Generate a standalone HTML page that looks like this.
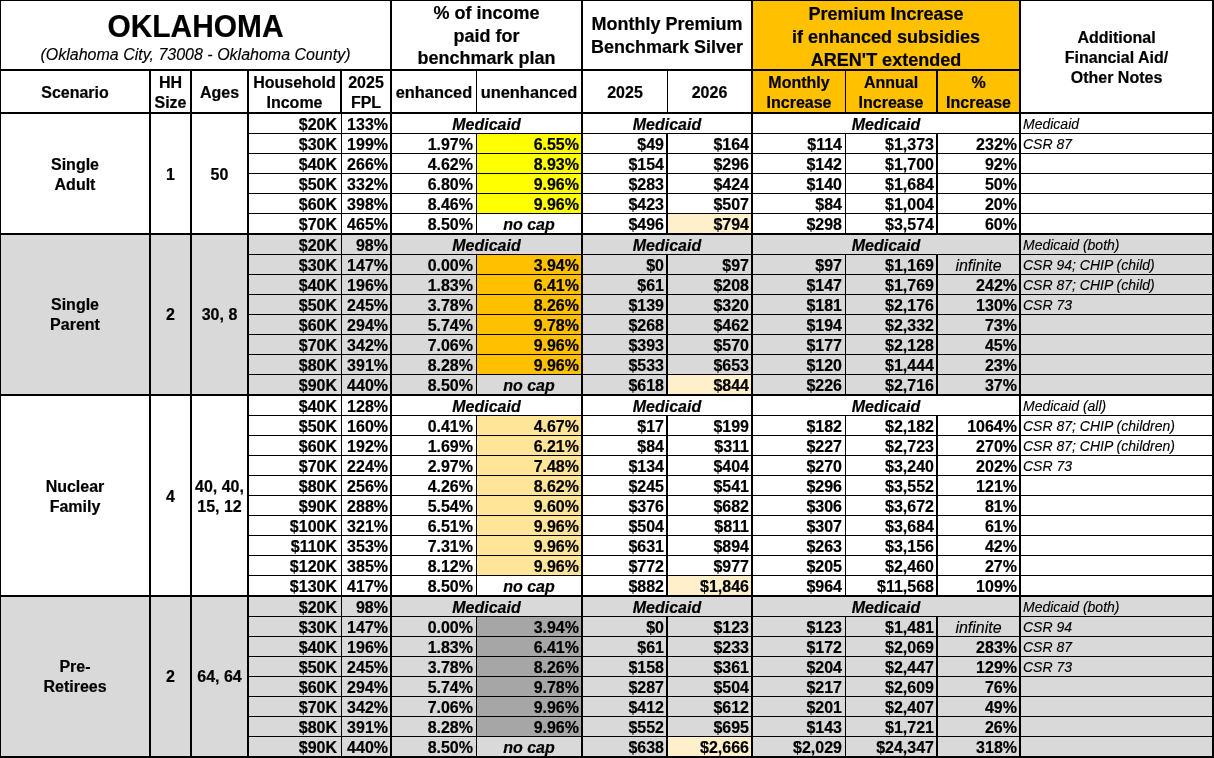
<!DOCTYPE html>
<html lang="en">
<head>
<meta charset="utf-8">
<title>Oklahoma premium table</title>
<style>
html,body{margin:0;padding:0;background:#fff;}
body{width:1214px;height:758px;position:relative;overflow:hidden;font-family:"Liberation Sans",sans-serif;color:#000;}
#sheet{position:absolute;left:0;top:0;width:1214px;height:758px;will-change:transform;}
.r{position:absolute;}
.t{position:absolute;white-space:nowrap;font-size:16px;box-sizing:content-box;transform:scaleY(1.045);transform-origin:50% 50%;}
.b{font-weight:bold;-webkit-text-stroke:0.2px #000;}
.i{font-style:italic;-webkit-text-stroke:0.15px #000;}
.bi{font-weight:bold;font-style:italic;-webkit-text-stroke:0.2px #000;}
.d{font-size:16px;}
.h{font-size:16px;}
.h2{font-size:16.4px;}
.n{font-size:14px;}
</style>
</head>
<body>
<div id="sheet">
<div class="r" style="left:0px;top:233px;width:1214px;height:161px;background:#d9d9d9"></div>
<div class="r" style="left:0px;top:595px;width:1214px;height:161px;background:#d9d9d9"></div>
<div class="r" style="left:753px;top:1px;width:266px;height:111px;background:#ffc000"></div>
<div class="r" style="left:477px;top:134px;width:104px;height:19px;background:#ffff00"></div>
<div class="r" style="left:477px;top:154px;width:104px;height:19px;background:#ffff00"></div>
<div class="r" style="left:477px;top:174px;width:104px;height:19px;background:#ffff00"></div>
<div class="r" style="left:477px;top:194px;width:104px;height:19px;background:#ffff00"></div>
<div class="r" style="left:668px;top:214px;width:83px;height:19px;background:#fff0cb"></div>
<div class="r" style="left:477px;top:255px;width:104px;height:19px;background:#ffc000"></div>
<div class="r" style="left:477px;top:275px;width:104px;height:19px;background:#ffc000"></div>
<div class="r" style="left:477px;top:295px;width:104px;height:19px;background:#ffc000"></div>
<div class="r" style="left:477px;top:315px;width:104px;height:19px;background:#ffc000"></div>
<div class="r" style="left:477px;top:335px;width:104px;height:19px;background:#ffc000"></div>
<div class="r" style="left:477px;top:355px;width:104px;height:19px;background:#ffc000"></div>
<div class="r" style="left:668px;top:375px;width:83px;height:19px;background:#fff0cb"></div>
<div class="r" style="left:477px;top:416px;width:104px;height:19px;background:#fee597"></div>
<div class="r" style="left:477px;top:436px;width:104px;height:19px;background:#fee597"></div>
<div class="r" style="left:477px;top:456px;width:104px;height:19px;background:#fee597"></div>
<div class="r" style="left:477px;top:476px;width:104px;height:19px;background:#fee597"></div>
<div class="r" style="left:477px;top:496px;width:104px;height:19px;background:#fee597"></div>
<div class="r" style="left:477px;top:516px;width:104px;height:19px;background:#fee597"></div>
<div class="r" style="left:477px;top:536px;width:104px;height:19px;background:#fee597"></div>
<div class="r" style="left:477px;top:556px;width:104px;height:19px;background:#fee597"></div>
<div class="r" style="left:668px;top:576px;width:83px;height:19px;background:#fff0cb"></div>
<div class="r" style="left:477px;top:617px;width:104px;height:19px;background:#a6a6a6"></div>
<div class="r" style="left:477px;top:637px;width:104px;height:19px;background:#a6a6a6"></div>
<div class="r" style="left:477px;top:657px;width:104px;height:19px;background:#a6a6a6"></div>
<div class="r" style="left:477px;top:677px;width:104px;height:19px;background:#a6a6a6"></div>
<div class="r" style="left:477px;top:697px;width:104px;height:19px;background:#a6a6a6"></div>
<div class="r" style="left:477px;top:717px;width:104px;height:19px;background:#a6a6a6"></div>
<div class="r" style="left:668px;top:737px;width:83px;height:19px;background:#fff0cb"></div>
<div class="r" style="left:0px;top:0px;width:1214px;height:1px;background:#000"></div>
<div class="r" style="left:0px;top:0px;width:1px;height:758px;background:#000"></div>
<div class="r" style="left:1212px;top:0px;width:2px;height:758px;background:#000"></div>
<div class="r" style="left:0px;top:756px;width:1214px;height:2px;background:#000"></div>
<div class="r" style="left:0px;top:69px;width:1021px;height:2px;background:#000"></div>
<div class="r" style="left:0px;top:112px;width:1214px;height:2px;background:#000"></div>
<div class="r" style="left:390px;top:0px;width:2px;height:758px;background:#000"></div>
<div class="r" style="left:581px;top:0px;width:2px;height:758px;background:#000"></div>
<div class="r" style="left:751px;top:0px;width:2px;height:758px;background:#000"></div>
<div class="r" style="left:1019px;top:0px;width:2px;height:758px;background:#000"></div>
<div class="r" style="left:149px;top:69px;width:2px;height:689px;background:#000"></div>
<div class="r" style="left:190px;top:69px;width:2px;height:689px;background:#000"></div>
<div class="r" style="left:247px;top:69px;width:2px;height:689px;background:#000"></div>
<div class="r" style="left:340px;top:71px;width:2px;height:41px;background:#000"></div>
<div class="r" style="left:341px;top:112px;width:1px;height:646px;background:#000"></div>
<div class="r" style="left:476px;top:71px;width:1px;height:41px;background:#000"></div>
<div class="r" style="left:667px;top:71px;width:1px;height:41px;background:#000"></div>
<div class="r" style="left:845px;top:71px;width:1px;height:41px;background:#000"></div>
<div class="r" style="left:936px;top:71px;width:2px;height:41px;background:#000"></div>
<div class="r" style="left:476px;top:134px;width:1px;height:20px;background:#000"></div>
<div class="r" style="left:666px;top:134px;width:2px;height:20px;background:#000"></div>
<div class="r" style="left:845px;top:134px;width:1px;height:20px;background:#000"></div>
<div class="r" style="left:936px;top:134px;width:2px;height:20px;background:#000"></div>
<div class="r" style="left:476px;top:154px;width:1px;height:20px;background:#000"></div>
<div class="r" style="left:666px;top:154px;width:2px;height:20px;background:#000"></div>
<div class="r" style="left:845px;top:154px;width:1px;height:20px;background:#000"></div>
<div class="r" style="left:936px;top:154px;width:2px;height:20px;background:#000"></div>
<div class="r" style="left:476px;top:174px;width:1px;height:20px;background:#000"></div>
<div class="r" style="left:666px;top:174px;width:2px;height:20px;background:#000"></div>
<div class="r" style="left:845px;top:174px;width:1px;height:20px;background:#000"></div>
<div class="r" style="left:936px;top:174px;width:2px;height:20px;background:#000"></div>
<div class="r" style="left:476px;top:194px;width:1px;height:20px;background:#000"></div>
<div class="r" style="left:666px;top:194px;width:2px;height:20px;background:#000"></div>
<div class="r" style="left:845px;top:194px;width:1px;height:20px;background:#000"></div>
<div class="r" style="left:936px;top:194px;width:2px;height:20px;background:#000"></div>
<div class="r" style="left:476px;top:214px;width:1px;height:19px;background:#000"></div>
<div class="r" style="left:666px;top:214px;width:2px;height:19px;background:#000"></div>
<div class="r" style="left:845px;top:214px;width:1px;height:19px;background:#000"></div>
<div class="r" style="left:936px;top:214px;width:2px;height:19px;background:#000"></div>
<div class="r" style="left:476px;top:255px;width:1px;height:20px;background:#000"></div>
<div class="r" style="left:666px;top:255px;width:2px;height:20px;background:#000"></div>
<div class="r" style="left:845px;top:255px;width:1px;height:20px;background:#000"></div>
<div class="r" style="left:936px;top:255px;width:2px;height:20px;background:#000"></div>
<div class="r" style="left:476px;top:275px;width:1px;height:20px;background:#000"></div>
<div class="r" style="left:666px;top:275px;width:2px;height:20px;background:#000"></div>
<div class="r" style="left:845px;top:275px;width:1px;height:20px;background:#000"></div>
<div class="r" style="left:936px;top:275px;width:2px;height:20px;background:#000"></div>
<div class="r" style="left:476px;top:295px;width:1px;height:20px;background:#000"></div>
<div class="r" style="left:666px;top:295px;width:2px;height:20px;background:#000"></div>
<div class="r" style="left:845px;top:295px;width:1px;height:20px;background:#000"></div>
<div class="r" style="left:936px;top:295px;width:2px;height:20px;background:#000"></div>
<div class="r" style="left:476px;top:315px;width:1px;height:20px;background:#000"></div>
<div class="r" style="left:666px;top:315px;width:2px;height:20px;background:#000"></div>
<div class="r" style="left:845px;top:315px;width:1px;height:20px;background:#000"></div>
<div class="r" style="left:936px;top:315px;width:2px;height:20px;background:#000"></div>
<div class="r" style="left:476px;top:335px;width:1px;height:20px;background:#000"></div>
<div class="r" style="left:666px;top:335px;width:2px;height:20px;background:#000"></div>
<div class="r" style="left:845px;top:335px;width:1px;height:20px;background:#000"></div>
<div class="r" style="left:936px;top:335px;width:2px;height:20px;background:#000"></div>
<div class="r" style="left:476px;top:355px;width:1px;height:20px;background:#000"></div>
<div class="r" style="left:666px;top:355px;width:2px;height:20px;background:#000"></div>
<div class="r" style="left:845px;top:355px;width:1px;height:20px;background:#000"></div>
<div class="r" style="left:936px;top:355px;width:2px;height:20px;background:#000"></div>
<div class="r" style="left:476px;top:375px;width:1px;height:19px;background:#000"></div>
<div class="r" style="left:666px;top:375px;width:2px;height:19px;background:#000"></div>
<div class="r" style="left:845px;top:375px;width:1px;height:19px;background:#000"></div>
<div class="r" style="left:936px;top:375px;width:2px;height:19px;background:#000"></div>
<div class="r" style="left:476px;top:416px;width:1px;height:20px;background:#000"></div>
<div class="r" style="left:666px;top:416px;width:2px;height:20px;background:#000"></div>
<div class="r" style="left:845px;top:416px;width:1px;height:20px;background:#000"></div>
<div class="r" style="left:936px;top:416px;width:2px;height:20px;background:#000"></div>
<div class="r" style="left:476px;top:436px;width:1px;height:20px;background:#000"></div>
<div class="r" style="left:666px;top:436px;width:2px;height:20px;background:#000"></div>
<div class="r" style="left:845px;top:436px;width:1px;height:20px;background:#000"></div>
<div class="r" style="left:936px;top:436px;width:2px;height:20px;background:#000"></div>
<div class="r" style="left:476px;top:456px;width:1px;height:20px;background:#000"></div>
<div class="r" style="left:666px;top:456px;width:2px;height:20px;background:#000"></div>
<div class="r" style="left:845px;top:456px;width:1px;height:20px;background:#000"></div>
<div class="r" style="left:936px;top:456px;width:2px;height:20px;background:#000"></div>
<div class="r" style="left:476px;top:476px;width:1px;height:20px;background:#000"></div>
<div class="r" style="left:666px;top:476px;width:2px;height:20px;background:#000"></div>
<div class="r" style="left:845px;top:476px;width:1px;height:20px;background:#000"></div>
<div class="r" style="left:936px;top:476px;width:2px;height:20px;background:#000"></div>
<div class="r" style="left:476px;top:496px;width:1px;height:20px;background:#000"></div>
<div class="r" style="left:666px;top:496px;width:2px;height:20px;background:#000"></div>
<div class="r" style="left:845px;top:496px;width:1px;height:20px;background:#000"></div>
<div class="r" style="left:936px;top:496px;width:2px;height:20px;background:#000"></div>
<div class="r" style="left:476px;top:516px;width:1px;height:20px;background:#000"></div>
<div class="r" style="left:666px;top:516px;width:2px;height:20px;background:#000"></div>
<div class="r" style="left:845px;top:516px;width:1px;height:20px;background:#000"></div>
<div class="r" style="left:936px;top:516px;width:2px;height:20px;background:#000"></div>
<div class="r" style="left:476px;top:536px;width:1px;height:20px;background:#000"></div>
<div class="r" style="left:666px;top:536px;width:2px;height:20px;background:#000"></div>
<div class="r" style="left:845px;top:536px;width:1px;height:20px;background:#000"></div>
<div class="r" style="left:936px;top:536px;width:2px;height:20px;background:#000"></div>
<div class="r" style="left:476px;top:556px;width:1px;height:20px;background:#000"></div>
<div class="r" style="left:666px;top:556px;width:2px;height:20px;background:#000"></div>
<div class="r" style="left:845px;top:556px;width:1px;height:20px;background:#000"></div>
<div class="r" style="left:936px;top:556px;width:2px;height:20px;background:#000"></div>
<div class="r" style="left:476px;top:576px;width:1px;height:19px;background:#000"></div>
<div class="r" style="left:666px;top:576px;width:2px;height:19px;background:#000"></div>
<div class="r" style="left:845px;top:576px;width:1px;height:19px;background:#000"></div>
<div class="r" style="left:936px;top:576px;width:2px;height:19px;background:#000"></div>
<div class="r" style="left:476px;top:617px;width:1px;height:20px;background:#000"></div>
<div class="r" style="left:666px;top:617px;width:2px;height:20px;background:#000"></div>
<div class="r" style="left:845px;top:617px;width:1px;height:20px;background:#000"></div>
<div class="r" style="left:936px;top:617px;width:2px;height:20px;background:#000"></div>
<div class="r" style="left:476px;top:637px;width:1px;height:20px;background:#000"></div>
<div class="r" style="left:666px;top:637px;width:2px;height:20px;background:#000"></div>
<div class="r" style="left:845px;top:637px;width:1px;height:20px;background:#000"></div>
<div class="r" style="left:936px;top:637px;width:2px;height:20px;background:#000"></div>
<div class="r" style="left:476px;top:657px;width:1px;height:20px;background:#000"></div>
<div class="r" style="left:666px;top:657px;width:2px;height:20px;background:#000"></div>
<div class="r" style="left:845px;top:657px;width:1px;height:20px;background:#000"></div>
<div class="r" style="left:936px;top:657px;width:2px;height:20px;background:#000"></div>
<div class="r" style="left:476px;top:677px;width:1px;height:20px;background:#000"></div>
<div class="r" style="left:666px;top:677px;width:2px;height:20px;background:#000"></div>
<div class="r" style="left:845px;top:677px;width:1px;height:20px;background:#000"></div>
<div class="r" style="left:936px;top:677px;width:2px;height:20px;background:#000"></div>
<div class="r" style="left:476px;top:697px;width:1px;height:20px;background:#000"></div>
<div class="r" style="left:666px;top:697px;width:2px;height:20px;background:#000"></div>
<div class="r" style="left:845px;top:697px;width:1px;height:20px;background:#000"></div>
<div class="r" style="left:936px;top:697px;width:2px;height:20px;background:#000"></div>
<div class="r" style="left:476px;top:717px;width:1px;height:20px;background:#000"></div>
<div class="r" style="left:666px;top:717px;width:2px;height:20px;background:#000"></div>
<div class="r" style="left:845px;top:717px;width:1px;height:20px;background:#000"></div>
<div class="r" style="left:936px;top:717px;width:2px;height:20px;background:#000"></div>
<div class="r" style="left:476px;top:737px;width:1px;height:19px;background:#000"></div>
<div class="r" style="left:666px;top:737px;width:2px;height:19px;background:#000"></div>
<div class="r" style="left:845px;top:737px;width:1px;height:19px;background:#000"></div>
<div class="r" style="left:936px;top:737px;width:2px;height:19px;background:#000"></div>
<div class="r" style="left:249px;top:133px;width:963px;height:1px;background:#000"></div>
<div class="r" style="left:249px;top:153px;width:963px;height:1px;background:#000"></div>
<div class="r" style="left:249px;top:173px;width:963px;height:1px;background:#000"></div>
<div class="r" style="left:249px;top:193px;width:963px;height:1px;background:#000"></div>
<div class="r" style="left:249px;top:213px;width:963px;height:1px;background:#000"></div>
<div class="r" style="left:0px;top:233px;width:1214px;height:2px;background:#000"></div>
<div class="r" style="left:249px;top:254px;width:963px;height:1px;background:#000"></div>
<div class="r" style="left:249px;top:274px;width:963px;height:1px;background:#000"></div>
<div class="r" style="left:249px;top:294px;width:963px;height:1px;background:#000"></div>
<div class="r" style="left:249px;top:314px;width:963px;height:1px;background:#000"></div>
<div class="r" style="left:249px;top:334px;width:963px;height:1px;background:#000"></div>
<div class="r" style="left:249px;top:354px;width:963px;height:1px;background:#000"></div>
<div class="r" style="left:249px;top:374px;width:963px;height:1px;background:#000"></div>
<div class="r" style="left:0px;top:394px;width:1214px;height:2px;background:#000"></div>
<div class="r" style="left:249px;top:415px;width:963px;height:1px;background:#000"></div>
<div class="r" style="left:249px;top:435px;width:963px;height:1px;background:#000"></div>
<div class="r" style="left:249px;top:455px;width:963px;height:1px;background:#000"></div>
<div class="r" style="left:249px;top:475px;width:963px;height:1px;background:#000"></div>
<div class="r" style="left:249px;top:495px;width:963px;height:1px;background:#000"></div>
<div class="r" style="left:249px;top:515px;width:963px;height:1px;background:#000"></div>
<div class="r" style="left:249px;top:535px;width:963px;height:1px;background:#000"></div>
<div class="r" style="left:249px;top:555px;width:963px;height:1px;background:#000"></div>
<div class="r" style="left:249px;top:575px;width:963px;height:1px;background:#000"></div>
<div class="r" style="left:0px;top:595px;width:1214px;height:2px;background:#000"></div>
<div class="r" style="left:249px;top:616px;width:963px;height:1px;background:#000"></div>
<div class="r" style="left:249px;top:636px;width:963px;height:1px;background:#000"></div>
<div class="r" style="left:249px;top:656px;width:963px;height:1px;background:#000"></div>
<div class="r" style="left:249px;top:676px;width:963px;height:1px;background:#000"></div>
<div class="r" style="left:249px;top:696px;width:963px;height:1px;background:#000"></div>
<div class="r" style="left:249px;top:716px;width:963px;height:1px;background:#000"></div>
<div class="r" style="left:249px;top:736px;width:963px;height:1px;background:#000"></div>
<div class="t b" style="left:1px;top:9px;width:389px;height:36px;line-height:36px;text-align:center;font-size:29.9px;">OKLAHOMA</div>
<div class="t i" style="left:1px;top:44px;width:389px;height:21px;line-height:21px;text-align:center;font-size:16px;">(Oklahoma City, 73008 - Oklahoma County)</div>
<div class="t b" style="left:392px;top:4.45px;width:189px;line-height:21.531px;text-align:center;font-size:18px;">% of income<br>paid for<br>benchmark plan</div>
<div class="t b" style="left:583px;top:14.47px;width:168px;line-height:21.531px;text-align:center;font-size:18px;">Monthly Premium<br>Benchmark Silver</div>
<div class="t b" style="left:753px;top:4.88px;width:266px;line-height:21.914px;text-align:center;font-size:18px;">Premium Increase<br>if enhanced subsidies<br>AREN'T extended</div>
<div class="t b" style="left:1021px;top:29.29px;width:191px;line-height:19.139px;text-align:center;font-size:16px;">Additional<br>Financial Aid/<br>Other Notes</div>
<div class="t b h" style="left:1px;top:72px;width:148px;height:41px;line-height:41px;text-align:center;">Scenario</div>
<div class="t b h" style="left:151px;top:72.86px;width:39px;line-height:19.139px;text-align:center;">HH<br>Size</div>
<div class="t b h" style="left:192px;top:72px;width:55px;height:41px;line-height:41px;text-align:center;">Ages</div>
<div class="t b h" style="left:249px;top:72.86px;width:91px;line-height:19.139px;text-align:center;">Household<br>Income</div>
<div class="t b h" style="left:342px;top:72.86px;width:48px;line-height:19.139px;text-align:center;">2025<br>FPL</div>
<div class="t b h2" style="left:392px;top:72px;width:84px;height:41px;line-height:41px;text-align:center;">enhanced</div>
<div class="t b h2" style="left:477px;top:72px;width:104px;height:41px;line-height:41px;text-align:center;">unenhanced</div>
<div class="t b h" style="left:583px;top:72px;width:84px;height:41px;line-height:41px;text-align:center;">2025</div>
<div class="t b h" style="left:668px;top:72px;width:83px;height:41px;line-height:41px;text-align:center;">2026</div>
<div class="t b h" style="left:753px;top:72.86px;width:92px;line-height:19.139px;text-align:center;">Monthly<br>Increase</div>
<div class="t b h" style="left:846px;top:72.86px;width:90px;line-height:19.139px;text-align:center;">Annual<br>Increase</div>
<div class="t b h" style="left:938px;top:72.86px;width:81px;line-height:19.139px;text-align:center;">%<br>Increase</div>
<div class="t b d" style="left:249px;top:115px;width:92px;height:19px;line-height:19px;text-align:right;padding-right:4px;width:88px;">$20K</div>
<div class="t b d" style="left:342px;top:115px;width:48px;height:19px;line-height:19px;text-align:right;padding-right:2px;width:46px;">133%</div>
<div class="t bi d" style="left:392px;top:115px;width:189px;height:19px;line-height:19px;text-align:center;">Medicaid</div>
<div class="t bi d" style="left:583px;top:115px;width:168px;height:19px;line-height:19px;text-align:center;">Medicaid</div>
<div class="t bi d" style="left:753px;top:115px;width:266px;height:19px;line-height:19px;text-align:center;">Medicaid</div>
<div class="t i n" style="left:1021px;top:115px;width:191px;height:19px;line-height:19px;text-align:left;padding-left:2px;width:189px;">Medicaid</div>
<div class="t b d" style="left:249px;top:135px;width:92px;height:19px;line-height:19px;text-align:right;padding-right:4px;width:88px;">$30K</div>
<div class="t b d" style="left:342px;top:135px;width:48px;height:19px;line-height:19px;text-align:right;padding-right:2px;width:46px;">199%</div>
<div class="t b d" style="left:392px;top:135px;width:84px;height:19px;line-height:19px;text-align:right;padding-right:3px;width:81px;">1.97%</div>
<div class="t b d" style="left:477px;top:135px;width:104px;height:19px;line-height:19px;text-align:right;padding-right:2px;width:102px;">6.55%</div>
<div class="t b d" style="left:583px;top:135px;width:83px;height:19px;line-height:19px;text-align:right;padding-right:2px;width:81px;">$49</div>
<div class="t b d" style="left:668px;top:135px;width:83px;height:19px;line-height:19px;text-align:right;padding-right:2px;width:81px;">$164</div>
<div class="t b d" style="left:753px;top:135px;width:92px;height:19px;line-height:19px;text-align:right;padding-right:3px;width:89px;">$114</div>
<div class="t b d" style="left:846px;top:135px;width:91px;height:19px;line-height:19px;text-align:right;padding-right:3px;width:88px;">$1,373</div>
<div class="t b d" style="left:938px;top:135px;width:81px;height:19px;line-height:19px;text-align:right;padding-right:2px;width:79px;">232%</div>
<div class="t i n" style="left:1021px;top:135px;width:191px;height:19px;line-height:19px;text-align:left;padding-left:2px;width:189px;">CSR 87</div>
<div class="t b d" style="left:249px;top:155px;width:92px;height:19px;line-height:19px;text-align:right;padding-right:4px;width:88px;">$40K</div>
<div class="t b d" style="left:342px;top:155px;width:48px;height:19px;line-height:19px;text-align:right;padding-right:2px;width:46px;">266%</div>
<div class="t b d" style="left:392px;top:155px;width:84px;height:19px;line-height:19px;text-align:right;padding-right:3px;width:81px;">4.62%</div>
<div class="t b d" style="left:477px;top:155px;width:104px;height:19px;line-height:19px;text-align:right;padding-right:2px;width:102px;">8.93%</div>
<div class="t b d" style="left:583px;top:155px;width:83px;height:19px;line-height:19px;text-align:right;padding-right:2px;width:81px;">$154</div>
<div class="t b d" style="left:668px;top:155px;width:83px;height:19px;line-height:19px;text-align:right;padding-right:2px;width:81px;">$296</div>
<div class="t b d" style="left:753px;top:155px;width:92px;height:19px;line-height:19px;text-align:right;padding-right:3px;width:89px;">$142</div>
<div class="t b d" style="left:846px;top:155px;width:91px;height:19px;line-height:19px;text-align:right;padding-right:3px;width:88px;">$1,700</div>
<div class="t b d" style="left:938px;top:155px;width:81px;height:19px;line-height:19px;text-align:right;padding-right:2px;width:79px;">92%</div>
<div class="t b d" style="left:249px;top:175px;width:92px;height:19px;line-height:19px;text-align:right;padding-right:4px;width:88px;">$50K</div>
<div class="t b d" style="left:342px;top:175px;width:48px;height:19px;line-height:19px;text-align:right;padding-right:2px;width:46px;">332%</div>
<div class="t b d" style="left:392px;top:175px;width:84px;height:19px;line-height:19px;text-align:right;padding-right:3px;width:81px;">6.80%</div>
<div class="t b d" style="left:477px;top:175px;width:104px;height:19px;line-height:19px;text-align:right;padding-right:2px;width:102px;">9.96%</div>
<div class="t b d" style="left:583px;top:175px;width:83px;height:19px;line-height:19px;text-align:right;padding-right:2px;width:81px;">$283</div>
<div class="t b d" style="left:668px;top:175px;width:83px;height:19px;line-height:19px;text-align:right;padding-right:2px;width:81px;">$424</div>
<div class="t b d" style="left:753px;top:175px;width:92px;height:19px;line-height:19px;text-align:right;padding-right:3px;width:89px;">$140</div>
<div class="t b d" style="left:846px;top:175px;width:91px;height:19px;line-height:19px;text-align:right;padding-right:3px;width:88px;">$1,684</div>
<div class="t b d" style="left:938px;top:175px;width:81px;height:19px;line-height:19px;text-align:right;padding-right:2px;width:79px;">50%</div>
<div class="t b d" style="left:249px;top:195px;width:92px;height:19px;line-height:19px;text-align:right;padding-right:4px;width:88px;">$60K</div>
<div class="t b d" style="left:342px;top:195px;width:48px;height:19px;line-height:19px;text-align:right;padding-right:2px;width:46px;">398%</div>
<div class="t b d" style="left:392px;top:195px;width:84px;height:19px;line-height:19px;text-align:right;padding-right:3px;width:81px;">8.46%</div>
<div class="t b d" style="left:477px;top:195px;width:104px;height:19px;line-height:19px;text-align:right;padding-right:2px;width:102px;">9.96%</div>
<div class="t b d" style="left:583px;top:195px;width:83px;height:19px;line-height:19px;text-align:right;padding-right:2px;width:81px;">$423</div>
<div class="t b d" style="left:668px;top:195px;width:83px;height:19px;line-height:19px;text-align:right;padding-right:2px;width:81px;">$507</div>
<div class="t b d" style="left:753px;top:195px;width:92px;height:19px;line-height:19px;text-align:right;padding-right:3px;width:89px;">$84</div>
<div class="t b d" style="left:846px;top:195px;width:91px;height:19px;line-height:19px;text-align:right;padding-right:3px;width:88px;">$1,004</div>
<div class="t b d" style="left:938px;top:195px;width:81px;height:19px;line-height:19px;text-align:right;padding-right:2px;width:79px;">20%</div>
<div class="t b d" style="left:249px;top:215px;width:92px;height:19px;line-height:19px;text-align:right;padding-right:4px;width:88px;">$70K</div>
<div class="t b d" style="left:342px;top:215px;width:48px;height:19px;line-height:19px;text-align:right;padding-right:2px;width:46px;">465%</div>
<div class="t b d" style="left:392px;top:215px;width:84px;height:19px;line-height:19px;text-align:right;padding-right:3px;width:81px;">8.50%</div>
<div class="t bi d" style="left:477px;top:215px;width:104px;height:19px;line-height:19px;text-align:center;">no cap</div>
<div class="t b d" style="left:583px;top:215px;width:83px;height:19px;line-height:19px;text-align:right;padding-right:2px;width:81px;">$496</div>
<div class="t b d" style="left:668px;top:215px;width:83px;height:19px;line-height:19px;text-align:right;padding-right:2px;width:81px;">$794</div>
<div class="t b d" style="left:753px;top:215px;width:92px;height:19px;line-height:19px;text-align:right;padding-right:3px;width:89px;">$298</div>
<div class="t b d" style="left:846px;top:215px;width:91px;height:19px;line-height:19px;text-align:right;padding-right:3px;width:88px;">$3,574</div>
<div class="t b d" style="left:938px;top:215px;width:81px;height:19px;line-height:19px;text-align:right;padding-right:2px;width:79px;">60%</div>
<div class="t b d" style="left:249px;top:236px;width:92px;height:19px;line-height:19px;text-align:right;padding-right:4px;width:88px;">$20K</div>
<div class="t b d" style="left:342px;top:236px;width:48px;height:19px;line-height:19px;text-align:right;padding-right:2px;width:46px;">98%</div>
<div class="t bi d" style="left:392px;top:236px;width:189px;height:19px;line-height:19px;text-align:center;">Medicaid</div>
<div class="t bi d" style="left:583px;top:236px;width:168px;height:19px;line-height:19px;text-align:center;">Medicaid</div>
<div class="t bi d" style="left:753px;top:236px;width:266px;height:19px;line-height:19px;text-align:center;">Medicaid</div>
<div class="t i n" style="left:1021px;top:236px;width:191px;height:19px;line-height:19px;text-align:left;padding-left:2px;width:189px;">Medicaid (both)</div>
<div class="t b d" style="left:249px;top:256px;width:92px;height:19px;line-height:19px;text-align:right;padding-right:4px;width:88px;">$30K</div>
<div class="t b d" style="left:342px;top:256px;width:48px;height:19px;line-height:19px;text-align:right;padding-right:2px;width:46px;">147%</div>
<div class="t b d" style="left:392px;top:256px;width:84px;height:19px;line-height:19px;text-align:right;padding-right:3px;width:81px;">0.00%</div>
<div class="t b d" style="left:477px;top:256px;width:104px;height:19px;line-height:19px;text-align:right;padding-right:2px;width:102px;">3.94%</div>
<div class="t b d" style="left:583px;top:256px;width:83px;height:19px;line-height:19px;text-align:right;padding-right:2px;width:81px;">$0</div>
<div class="t b d" style="left:668px;top:256px;width:83px;height:19px;line-height:19px;text-align:right;padding-right:2px;width:81px;">$97</div>
<div class="t b d" style="left:753px;top:256px;width:92px;height:19px;line-height:19px;text-align:right;padding-right:3px;width:89px;">$97</div>
<div class="t b d" style="left:846px;top:256px;width:91px;height:19px;line-height:19px;text-align:right;padding-right:3px;width:88px;">$1,169</div>
<div class="t i d" style="left:938px;top:256px;width:81px;height:19px;line-height:19px;text-align:center;">infinite</div>
<div class="t i n" style="left:1021px;top:256px;width:191px;height:19px;line-height:19px;text-align:left;padding-left:2px;width:189px;">CSR 94; CHIP (child)</div>
<div class="t b d" style="left:249px;top:276px;width:92px;height:19px;line-height:19px;text-align:right;padding-right:4px;width:88px;">$40K</div>
<div class="t b d" style="left:342px;top:276px;width:48px;height:19px;line-height:19px;text-align:right;padding-right:2px;width:46px;">196%</div>
<div class="t b d" style="left:392px;top:276px;width:84px;height:19px;line-height:19px;text-align:right;padding-right:3px;width:81px;">1.83%</div>
<div class="t b d" style="left:477px;top:276px;width:104px;height:19px;line-height:19px;text-align:right;padding-right:2px;width:102px;">6.41%</div>
<div class="t b d" style="left:583px;top:276px;width:83px;height:19px;line-height:19px;text-align:right;padding-right:2px;width:81px;">$61</div>
<div class="t b d" style="left:668px;top:276px;width:83px;height:19px;line-height:19px;text-align:right;padding-right:2px;width:81px;">$208</div>
<div class="t b d" style="left:753px;top:276px;width:92px;height:19px;line-height:19px;text-align:right;padding-right:3px;width:89px;">$147</div>
<div class="t b d" style="left:846px;top:276px;width:91px;height:19px;line-height:19px;text-align:right;padding-right:3px;width:88px;">$1,769</div>
<div class="t b d" style="left:938px;top:276px;width:81px;height:19px;line-height:19px;text-align:right;padding-right:2px;width:79px;">242%</div>
<div class="t i n" style="left:1021px;top:276px;width:191px;height:19px;line-height:19px;text-align:left;padding-left:2px;width:189px;">CSR 87; CHIP (child)</div>
<div class="t b d" style="left:249px;top:296px;width:92px;height:19px;line-height:19px;text-align:right;padding-right:4px;width:88px;">$50K</div>
<div class="t b d" style="left:342px;top:296px;width:48px;height:19px;line-height:19px;text-align:right;padding-right:2px;width:46px;">245%</div>
<div class="t b d" style="left:392px;top:296px;width:84px;height:19px;line-height:19px;text-align:right;padding-right:3px;width:81px;">3.78%</div>
<div class="t b d" style="left:477px;top:296px;width:104px;height:19px;line-height:19px;text-align:right;padding-right:2px;width:102px;">8.26%</div>
<div class="t b d" style="left:583px;top:296px;width:83px;height:19px;line-height:19px;text-align:right;padding-right:2px;width:81px;">$139</div>
<div class="t b d" style="left:668px;top:296px;width:83px;height:19px;line-height:19px;text-align:right;padding-right:2px;width:81px;">$320</div>
<div class="t b d" style="left:753px;top:296px;width:92px;height:19px;line-height:19px;text-align:right;padding-right:3px;width:89px;">$181</div>
<div class="t b d" style="left:846px;top:296px;width:91px;height:19px;line-height:19px;text-align:right;padding-right:3px;width:88px;">$2,176</div>
<div class="t b d" style="left:938px;top:296px;width:81px;height:19px;line-height:19px;text-align:right;padding-right:2px;width:79px;">130%</div>
<div class="t i n" style="left:1021px;top:296px;width:191px;height:19px;line-height:19px;text-align:left;padding-left:2px;width:189px;">CSR 73</div>
<div class="t b d" style="left:249px;top:316px;width:92px;height:19px;line-height:19px;text-align:right;padding-right:4px;width:88px;">$60K</div>
<div class="t b d" style="left:342px;top:316px;width:48px;height:19px;line-height:19px;text-align:right;padding-right:2px;width:46px;">294%</div>
<div class="t b d" style="left:392px;top:316px;width:84px;height:19px;line-height:19px;text-align:right;padding-right:3px;width:81px;">5.74%</div>
<div class="t b d" style="left:477px;top:316px;width:104px;height:19px;line-height:19px;text-align:right;padding-right:2px;width:102px;">9.78%</div>
<div class="t b d" style="left:583px;top:316px;width:83px;height:19px;line-height:19px;text-align:right;padding-right:2px;width:81px;">$268</div>
<div class="t b d" style="left:668px;top:316px;width:83px;height:19px;line-height:19px;text-align:right;padding-right:2px;width:81px;">$462</div>
<div class="t b d" style="left:753px;top:316px;width:92px;height:19px;line-height:19px;text-align:right;padding-right:3px;width:89px;">$194</div>
<div class="t b d" style="left:846px;top:316px;width:91px;height:19px;line-height:19px;text-align:right;padding-right:3px;width:88px;">$2,332</div>
<div class="t b d" style="left:938px;top:316px;width:81px;height:19px;line-height:19px;text-align:right;padding-right:2px;width:79px;">73%</div>
<div class="t b d" style="left:249px;top:336px;width:92px;height:19px;line-height:19px;text-align:right;padding-right:4px;width:88px;">$70K</div>
<div class="t b d" style="left:342px;top:336px;width:48px;height:19px;line-height:19px;text-align:right;padding-right:2px;width:46px;">342%</div>
<div class="t b d" style="left:392px;top:336px;width:84px;height:19px;line-height:19px;text-align:right;padding-right:3px;width:81px;">7.06%</div>
<div class="t b d" style="left:477px;top:336px;width:104px;height:19px;line-height:19px;text-align:right;padding-right:2px;width:102px;">9.96%</div>
<div class="t b d" style="left:583px;top:336px;width:83px;height:19px;line-height:19px;text-align:right;padding-right:2px;width:81px;">$393</div>
<div class="t b d" style="left:668px;top:336px;width:83px;height:19px;line-height:19px;text-align:right;padding-right:2px;width:81px;">$570</div>
<div class="t b d" style="left:753px;top:336px;width:92px;height:19px;line-height:19px;text-align:right;padding-right:3px;width:89px;">$177</div>
<div class="t b d" style="left:846px;top:336px;width:91px;height:19px;line-height:19px;text-align:right;padding-right:3px;width:88px;">$2,128</div>
<div class="t b d" style="left:938px;top:336px;width:81px;height:19px;line-height:19px;text-align:right;padding-right:2px;width:79px;">45%</div>
<div class="t b d" style="left:249px;top:356px;width:92px;height:19px;line-height:19px;text-align:right;padding-right:4px;width:88px;">$80K</div>
<div class="t b d" style="left:342px;top:356px;width:48px;height:19px;line-height:19px;text-align:right;padding-right:2px;width:46px;">391%</div>
<div class="t b d" style="left:392px;top:356px;width:84px;height:19px;line-height:19px;text-align:right;padding-right:3px;width:81px;">8.28%</div>
<div class="t b d" style="left:477px;top:356px;width:104px;height:19px;line-height:19px;text-align:right;padding-right:2px;width:102px;">9.96%</div>
<div class="t b d" style="left:583px;top:356px;width:83px;height:19px;line-height:19px;text-align:right;padding-right:2px;width:81px;">$533</div>
<div class="t b d" style="left:668px;top:356px;width:83px;height:19px;line-height:19px;text-align:right;padding-right:2px;width:81px;">$653</div>
<div class="t b d" style="left:753px;top:356px;width:92px;height:19px;line-height:19px;text-align:right;padding-right:3px;width:89px;">$120</div>
<div class="t b d" style="left:846px;top:356px;width:91px;height:19px;line-height:19px;text-align:right;padding-right:3px;width:88px;">$1,444</div>
<div class="t b d" style="left:938px;top:356px;width:81px;height:19px;line-height:19px;text-align:right;padding-right:2px;width:79px;">23%</div>
<div class="t b d" style="left:249px;top:376px;width:92px;height:19px;line-height:19px;text-align:right;padding-right:4px;width:88px;">$90K</div>
<div class="t b d" style="left:342px;top:376px;width:48px;height:19px;line-height:19px;text-align:right;padding-right:2px;width:46px;">440%</div>
<div class="t b d" style="left:392px;top:376px;width:84px;height:19px;line-height:19px;text-align:right;padding-right:3px;width:81px;">8.50%</div>
<div class="t bi d" style="left:477px;top:376px;width:104px;height:19px;line-height:19px;text-align:center;">no cap</div>
<div class="t b d" style="left:583px;top:376px;width:83px;height:19px;line-height:19px;text-align:right;padding-right:2px;width:81px;">$618</div>
<div class="t b d" style="left:668px;top:376px;width:83px;height:19px;line-height:19px;text-align:right;padding-right:2px;width:81px;">$844</div>
<div class="t b d" style="left:753px;top:376px;width:92px;height:19px;line-height:19px;text-align:right;padding-right:3px;width:89px;">$226</div>
<div class="t b d" style="left:846px;top:376px;width:91px;height:19px;line-height:19px;text-align:right;padding-right:3px;width:88px;">$2,716</div>
<div class="t b d" style="left:938px;top:376px;width:81px;height:19px;line-height:19px;text-align:right;padding-right:2px;width:79px;">37%</div>
<div class="t b d" style="left:249px;top:397px;width:92px;height:19px;line-height:19px;text-align:right;padding-right:4px;width:88px;">$40K</div>
<div class="t b d" style="left:342px;top:397px;width:48px;height:19px;line-height:19px;text-align:right;padding-right:2px;width:46px;">128%</div>
<div class="t bi d" style="left:392px;top:397px;width:189px;height:19px;line-height:19px;text-align:center;">Medicaid</div>
<div class="t bi d" style="left:583px;top:397px;width:168px;height:19px;line-height:19px;text-align:center;">Medicaid</div>
<div class="t bi d" style="left:753px;top:397px;width:266px;height:19px;line-height:19px;text-align:center;">Medicaid</div>
<div class="t i n" style="left:1021px;top:397px;width:191px;height:19px;line-height:19px;text-align:left;padding-left:2px;width:189px;">Medicaid (all)</div>
<div class="t b d" style="left:249px;top:417px;width:92px;height:19px;line-height:19px;text-align:right;padding-right:4px;width:88px;">$50K</div>
<div class="t b d" style="left:342px;top:417px;width:48px;height:19px;line-height:19px;text-align:right;padding-right:2px;width:46px;">160%</div>
<div class="t b d" style="left:392px;top:417px;width:84px;height:19px;line-height:19px;text-align:right;padding-right:3px;width:81px;">0.41%</div>
<div class="t b d" style="left:477px;top:417px;width:104px;height:19px;line-height:19px;text-align:right;padding-right:2px;width:102px;">4.67%</div>
<div class="t b d" style="left:583px;top:417px;width:83px;height:19px;line-height:19px;text-align:right;padding-right:2px;width:81px;">$17</div>
<div class="t b d" style="left:668px;top:417px;width:83px;height:19px;line-height:19px;text-align:right;padding-right:2px;width:81px;">$199</div>
<div class="t b d" style="left:753px;top:417px;width:92px;height:19px;line-height:19px;text-align:right;padding-right:3px;width:89px;">$182</div>
<div class="t b d" style="left:846px;top:417px;width:91px;height:19px;line-height:19px;text-align:right;padding-right:3px;width:88px;">$2,182</div>
<div class="t b d" style="left:938px;top:417px;width:81px;height:19px;line-height:19px;text-align:right;padding-right:2px;width:79px;">1064%</div>
<div class="t i n" style="left:1021px;top:417px;width:191px;height:19px;line-height:19px;text-align:left;padding-left:2px;width:189px;">CSR 87; CHIP (children)</div>
<div class="t b d" style="left:249px;top:437px;width:92px;height:19px;line-height:19px;text-align:right;padding-right:4px;width:88px;">$60K</div>
<div class="t b d" style="left:342px;top:437px;width:48px;height:19px;line-height:19px;text-align:right;padding-right:2px;width:46px;">192%</div>
<div class="t b d" style="left:392px;top:437px;width:84px;height:19px;line-height:19px;text-align:right;padding-right:3px;width:81px;">1.69%</div>
<div class="t b d" style="left:477px;top:437px;width:104px;height:19px;line-height:19px;text-align:right;padding-right:2px;width:102px;">6.21%</div>
<div class="t b d" style="left:583px;top:437px;width:83px;height:19px;line-height:19px;text-align:right;padding-right:2px;width:81px;">$84</div>
<div class="t b d" style="left:668px;top:437px;width:83px;height:19px;line-height:19px;text-align:right;padding-right:2px;width:81px;">$311</div>
<div class="t b d" style="left:753px;top:437px;width:92px;height:19px;line-height:19px;text-align:right;padding-right:3px;width:89px;">$227</div>
<div class="t b d" style="left:846px;top:437px;width:91px;height:19px;line-height:19px;text-align:right;padding-right:3px;width:88px;">$2,723</div>
<div class="t b d" style="left:938px;top:437px;width:81px;height:19px;line-height:19px;text-align:right;padding-right:2px;width:79px;">270%</div>
<div class="t i n" style="left:1021px;top:437px;width:191px;height:19px;line-height:19px;text-align:left;padding-left:2px;width:189px;">CSR 87; CHIP (children)</div>
<div class="t b d" style="left:249px;top:457px;width:92px;height:19px;line-height:19px;text-align:right;padding-right:4px;width:88px;">$70K</div>
<div class="t b d" style="left:342px;top:457px;width:48px;height:19px;line-height:19px;text-align:right;padding-right:2px;width:46px;">224%</div>
<div class="t b d" style="left:392px;top:457px;width:84px;height:19px;line-height:19px;text-align:right;padding-right:3px;width:81px;">2.97%</div>
<div class="t b d" style="left:477px;top:457px;width:104px;height:19px;line-height:19px;text-align:right;padding-right:2px;width:102px;">7.48%</div>
<div class="t b d" style="left:583px;top:457px;width:83px;height:19px;line-height:19px;text-align:right;padding-right:2px;width:81px;">$134</div>
<div class="t b d" style="left:668px;top:457px;width:83px;height:19px;line-height:19px;text-align:right;padding-right:2px;width:81px;">$404</div>
<div class="t b d" style="left:753px;top:457px;width:92px;height:19px;line-height:19px;text-align:right;padding-right:3px;width:89px;">$270</div>
<div class="t b d" style="left:846px;top:457px;width:91px;height:19px;line-height:19px;text-align:right;padding-right:3px;width:88px;">$3,240</div>
<div class="t b d" style="left:938px;top:457px;width:81px;height:19px;line-height:19px;text-align:right;padding-right:2px;width:79px;">202%</div>
<div class="t i n" style="left:1021px;top:457px;width:191px;height:19px;line-height:19px;text-align:left;padding-left:2px;width:189px;">CSR 73</div>
<div class="t b d" style="left:249px;top:477px;width:92px;height:19px;line-height:19px;text-align:right;padding-right:4px;width:88px;">$80K</div>
<div class="t b d" style="left:342px;top:477px;width:48px;height:19px;line-height:19px;text-align:right;padding-right:2px;width:46px;">256%</div>
<div class="t b d" style="left:392px;top:477px;width:84px;height:19px;line-height:19px;text-align:right;padding-right:3px;width:81px;">4.26%</div>
<div class="t b d" style="left:477px;top:477px;width:104px;height:19px;line-height:19px;text-align:right;padding-right:2px;width:102px;">8.62%</div>
<div class="t b d" style="left:583px;top:477px;width:83px;height:19px;line-height:19px;text-align:right;padding-right:2px;width:81px;">$245</div>
<div class="t b d" style="left:668px;top:477px;width:83px;height:19px;line-height:19px;text-align:right;padding-right:2px;width:81px;">$541</div>
<div class="t b d" style="left:753px;top:477px;width:92px;height:19px;line-height:19px;text-align:right;padding-right:3px;width:89px;">$296</div>
<div class="t b d" style="left:846px;top:477px;width:91px;height:19px;line-height:19px;text-align:right;padding-right:3px;width:88px;">$3,552</div>
<div class="t b d" style="left:938px;top:477px;width:81px;height:19px;line-height:19px;text-align:right;padding-right:2px;width:79px;">121%</div>
<div class="t b d" style="left:249px;top:497px;width:92px;height:19px;line-height:19px;text-align:right;padding-right:4px;width:88px;">$90K</div>
<div class="t b d" style="left:342px;top:497px;width:48px;height:19px;line-height:19px;text-align:right;padding-right:2px;width:46px;">288%</div>
<div class="t b d" style="left:392px;top:497px;width:84px;height:19px;line-height:19px;text-align:right;padding-right:3px;width:81px;">5.54%</div>
<div class="t b d" style="left:477px;top:497px;width:104px;height:19px;line-height:19px;text-align:right;padding-right:2px;width:102px;">9.60%</div>
<div class="t b d" style="left:583px;top:497px;width:83px;height:19px;line-height:19px;text-align:right;padding-right:2px;width:81px;">$376</div>
<div class="t b d" style="left:668px;top:497px;width:83px;height:19px;line-height:19px;text-align:right;padding-right:2px;width:81px;">$682</div>
<div class="t b d" style="left:753px;top:497px;width:92px;height:19px;line-height:19px;text-align:right;padding-right:3px;width:89px;">$306</div>
<div class="t b d" style="left:846px;top:497px;width:91px;height:19px;line-height:19px;text-align:right;padding-right:3px;width:88px;">$3,672</div>
<div class="t b d" style="left:938px;top:497px;width:81px;height:19px;line-height:19px;text-align:right;padding-right:2px;width:79px;">81%</div>
<div class="t b d" style="left:249px;top:517px;width:92px;height:19px;line-height:19px;text-align:right;padding-right:4px;width:88px;">$100K</div>
<div class="t b d" style="left:342px;top:517px;width:48px;height:19px;line-height:19px;text-align:right;padding-right:2px;width:46px;">321%</div>
<div class="t b d" style="left:392px;top:517px;width:84px;height:19px;line-height:19px;text-align:right;padding-right:3px;width:81px;">6.51%</div>
<div class="t b d" style="left:477px;top:517px;width:104px;height:19px;line-height:19px;text-align:right;padding-right:2px;width:102px;">9.96%</div>
<div class="t b d" style="left:583px;top:517px;width:83px;height:19px;line-height:19px;text-align:right;padding-right:2px;width:81px;">$504</div>
<div class="t b d" style="left:668px;top:517px;width:83px;height:19px;line-height:19px;text-align:right;padding-right:2px;width:81px;">$811</div>
<div class="t b d" style="left:753px;top:517px;width:92px;height:19px;line-height:19px;text-align:right;padding-right:3px;width:89px;">$307</div>
<div class="t b d" style="left:846px;top:517px;width:91px;height:19px;line-height:19px;text-align:right;padding-right:3px;width:88px;">$3,684</div>
<div class="t b d" style="left:938px;top:517px;width:81px;height:19px;line-height:19px;text-align:right;padding-right:2px;width:79px;">61%</div>
<div class="t b d" style="left:249px;top:537px;width:92px;height:19px;line-height:19px;text-align:right;padding-right:4px;width:88px;">$110K</div>
<div class="t b d" style="left:342px;top:537px;width:48px;height:19px;line-height:19px;text-align:right;padding-right:2px;width:46px;">353%</div>
<div class="t b d" style="left:392px;top:537px;width:84px;height:19px;line-height:19px;text-align:right;padding-right:3px;width:81px;">7.31%</div>
<div class="t b d" style="left:477px;top:537px;width:104px;height:19px;line-height:19px;text-align:right;padding-right:2px;width:102px;">9.96%</div>
<div class="t b d" style="left:583px;top:537px;width:83px;height:19px;line-height:19px;text-align:right;padding-right:2px;width:81px;">$631</div>
<div class="t b d" style="left:668px;top:537px;width:83px;height:19px;line-height:19px;text-align:right;padding-right:2px;width:81px;">$894</div>
<div class="t b d" style="left:753px;top:537px;width:92px;height:19px;line-height:19px;text-align:right;padding-right:3px;width:89px;">$263</div>
<div class="t b d" style="left:846px;top:537px;width:91px;height:19px;line-height:19px;text-align:right;padding-right:3px;width:88px;">$3,156</div>
<div class="t b d" style="left:938px;top:537px;width:81px;height:19px;line-height:19px;text-align:right;padding-right:2px;width:79px;">42%</div>
<div class="t b d" style="left:249px;top:557px;width:92px;height:19px;line-height:19px;text-align:right;padding-right:4px;width:88px;">$120K</div>
<div class="t b d" style="left:342px;top:557px;width:48px;height:19px;line-height:19px;text-align:right;padding-right:2px;width:46px;">385%</div>
<div class="t b d" style="left:392px;top:557px;width:84px;height:19px;line-height:19px;text-align:right;padding-right:3px;width:81px;">8.12%</div>
<div class="t b d" style="left:477px;top:557px;width:104px;height:19px;line-height:19px;text-align:right;padding-right:2px;width:102px;">9.96%</div>
<div class="t b d" style="left:583px;top:557px;width:83px;height:19px;line-height:19px;text-align:right;padding-right:2px;width:81px;">$772</div>
<div class="t b d" style="left:668px;top:557px;width:83px;height:19px;line-height:19px;text-align:right;padding-right:2px;width:81px;">$977</div>
<div class="t b d" style="left:753px;top:557px;width:92px;height:19px;line-height:19px;text-align:right;padding-right:3px;width:89px;">$205</div>
<div class="t b d" style="left:846px;top:557px;width:91px;height:19px;line-height:19px;text-align:right;padding-right:3px;width:88px;">$2,460</div>
<div class="t b d" style="left:938px;top:557px;width:81px;height:19px;line-height:19px;text-align:right;padding-right:2px;width:79px;">27%</div>
<div class="t b d" style="left:249px;top:577px;width:92px;height:19px;line-height:19px;text-align:right;padding-right:4px;width:88px;">$130K</div>
<div class="t b d" style="left:342px;top:577px;width:48px;height:19px;line-height:19px;text-align:right;padding-right:2px;width:46px;">417%</div>
<div class="t b d" style="left:392px;top:577px;width:84px;height:19px;line-height:19px;text-align:right;padding-right:3px;width:81px;">8.50%</div>
<div class="t bi d" style="left:477px;top:577px;width:104px;height:19px;line-height:19px;text-align:center;">no cap</div>
<div class="t b d" style="left:583px;top:577px;width:83px;height:19px;line-height:19px;text-align:right;padding-right:2px;width:81px;">$882</div>
<div class="t b d" style="left:668px;top:577px;width:83px;height:19px;line-height:19px;text-align:right;padding-right:2px;width:81px;">$1,846</div>
<div class="t b d" style="left:753px;top:577px;width:92px;height:19px;line-height:19px;text-align:right;padding-right:3px;width:89px;">$964</div>
<div class="t b d" style="left:846px;top:577px;width:91px;height:19px;line-height:19px;text-align:right;padding-right:3px;width:88px;">$11,568</div>
<div class="t b d" style="left:938px;top:577px;width:81px;height:19px;line-height:19px;text-align:right;padding-right:2px;width:79px;">109%</div>
<div class="t b d" style="left:249px;top:598px;width:92px;height:19px;line-height:19px;text-align:right;padding-right:4px;width:88px;">$20K</div>
<div class="t b d" style="left:342px;top:598px;width:48px;height:19px;line-height:19px;text-align:right;padding-right:2px;width:46px;">98%</div>
<div class="t bi d" style="left:392px;top:598px;width:189px;height:19px;line-height:19px;text-align:center;">Medicaid</div>
<div class="t bi d" style="left:583px;top:598px;width:168px;height:19px;line-height:19px;text-align:center;">Medicaid</div>
<div class="t bi d" style="left:753px;top:598px;width:266px;height:19px;line-height:19px;text-align:center;">Medicaid</div>
<div class="t i n" style="left:1021px;top:598px;width:191px;height:19px;line-height:19px;text-align:left;padding-left:2px;width:189px;">Medicaid (both)</div>
<div class="t b d" style="left:249px;top:618px;width:92px;height:19px;line-height:19px;text-align:right;padding-right:4px;width:88px;">$30K</div>
<div class="t b d" style="left:342px;top:618px;width:48px;height:19px;line-height:19px;text-align:right;padding-right:2px;width:46px;">147%</div>
<div class="t b d" style="left:392px;top:618px;width:84px;height:19px;line-height:19px;text-align:right;padding-right:3px;width:81px;">0.00%</div>
<div class="t b d" style="left:477px;top:618px;width:104px;height:19px;line-height:19px;text-align:right;padding-right:2px;width:102px;">3.94%</div>
<div class="t b d" style="left:583px;top:618px;width:83px;height:19px;line-height:19px;text-align:right;padding-right:2px;width:81px;">$0</div>
<div class="t b d" style="left:668px;top:618px;width:83px;height:19px;line-height:19px;text-align:right;padding-right:2px;width:81px;">$123</div>
<div class="t b d" style="left:753px;top:618px;width:92px;height:19px;line-height:19px;text-align:right;padding-right:3px;width:89px;">$123</div>
<div class="t b d" style="left:846px;top:618px;width:91px;height:19px;line-height:19px;text-align:right;padding-right:3px;width:88px;">$1,481</div>
<div class="t i d" style="left:938px;top:618px;width:81px;height:19px;line-height:19px;text-align:center;">infinite</div>
<div class="t i n" style="left:1021px;top:618px;width:191px;height:19px;line-height:19px;text-align:left;padding-left:2px;width:189px;">CSR 94</div>
<div class="t b d" style="left:249px;top:638px;width:92px;height:19px;line-height:19px;text-align:right;padding-right:4px;width:88px;">$40K</div>
<div class="t b d" style="left:342px;top:638px;width:48px;height:19px;line-height:19px;text-align:right;padding-right:2px;width:46px;">196%</div>
<div class="t b d" style="left:392px;top:638px;width:84px;height:19px;line-height:19px;text-align:right;padding-right:3px;width:81px;">1.83%</div>
<div class="t b d" style="left:477px;top:638px;width:104px;height:19px;line-height:19px;text-align:right;padding-right:2px;width:102px;">6.41%</div>
<div class="t b d" style="left:583px;top:638px;width:83px;height:19px;line-height:19px;text-align:right;padding-right:2px;width:81px;">$61</div>
<div class="t b d" style="left:668px;top:638px;width:83px;height:19px;line-height:19px;text-align:right;padding-right:2px;width:81px;">$233</div>
<div class="t b d" style="left:753px;top:638px;width:92px;height:19px;line-height:19px;text-align:right;padding-right:3px;width:89px;">$172</div>
<div class="t b d" style="left:846px;top:638px;width:91px;height:19px;line-height:19px;text-align:right;padding-right:3px;width:88px;">$2,069</div>
<div class="t b d" style="left:938px;top:638px;width:81px;height:19px;line-height:19px;text-align:right;padding-right:2px;width:79px;">283%</div>
<div class="t i n" style="left:1021px;top:638px;width:191px;height:19px;line-height:19px;text-align:left;padding-left:2px;width:189px;">CSR 87</div>
<div class="t b d" style="left:249px;top:658px;width:92px;height:19px;line-height:19px;text-align:right;padding-right:4px;width:88px;">$50K</div>
<div class="t b d" style="left:342px;top:658px;width:48px;height:19px;line-height:19px;text-align:right;padding-right:2px;width:46px;">245%</div>
<div class="t b d" style="left:392px;top:658px;width:84px;height:19px;line-height:19px;text-align:right;padding-right:3px;width:81px;">3.78%</div>
<div class="t b d" style="left:477px;top:658px;width:104px;height:19px;line-height:19px;text-align:right;padding-right:2px;width:102px;">8.26%</div>
<div class="t b d" style="left:583px;top:658px;width:83px;height:19px;line-height:19px;text-align:right;padding-right:2px;width:81px;">$158</div>
<div class="t b d" style="left:668px;top:658px;width:83px;height:19px;line-height:19px;text-align:right;padding-right:2px;width:81px;">$361</div>
<div class="t b d" style="left:753px;top:658px;width:92px;height:19px;line-height:19px;text-align:right;padding-right:3px;width:89px;">$204</div>
<div class="t b d" style="left:846px;top:658px;width:91px;height:19px;line-height:19px;text-align:right;padding-right:3px;width:88px;">$2,447</div>
<div class="t b d" style="left:938px;top:658px;width:81px;height:19px;line-height:19px;text-align:right;padding-right:2px;width:79px;">129%</div>
<div class="t i n" style="left:1021px;top:658px;width:191px;height:19px;line-height:19px;text-align:left;padding-left:2px;width:189px;">CSR 73</div>
<div class="t b d" style="left:249px;top:678px;width:92px;height:19px;line-height:19px;text-align:right;padding-right:4px;width:88px;">$60K</div>
<div class="t b d" style="left:342px;top:678px;width:48px;height:19px;line-height:19px;text-align:right;padding-right:2px;width:46px;">294%</div>
<div class="t b d" style="left:392px;top:678px;width:84px;height:19px;line-height:19px;text-align:right;padding-right:3px;width:81px;">5.74%</div>
<div class="t b d" style="left:477px;top:678px;width:104px;height:19px;line-height:19px;text-align:right;padding-right:2px;width:102px;">9.78%</div>
<div class="t b d" style="left:583px;top:678px;width:83px;height:19px;line-height:19px;text-align:right;padding-right:2px;width:81px;">$287</div>
<div class="t b d" style="left:668px;top:678px;width:83px;height:19px;line-height:19px;text-align:right;padding-right:2px;width:81px;">$504</div>
<div class="t b d" style="left:753px;top:678px;width:92px;height:19px;line-height:19px;text-align:right;padding-right:3px;width:89px;">$217</div>
<div class="t b d" style="left:846px;top:678px;width:91px;height:19px;line-height:19px;text-align:right;padding-right:3px;width:88px;">$2,609</div>
<div class="t b d" style="left:938px;top:678px;width:81px;height:19px;line-height:19px;text-align:right;padding-right:2px;width:79px;">76%</div>
<div class="t b d" style="left:249px;top:698px;width:92px;height:19px;line-height:19px;text-align:right;padding-right:4px;width:88px;">$70K</div>
<div class="t b d" style="left:342px;top:698px;width:48px;height:19px;line-height:19px;text-align:right;padding-right:2px;width:46px;">342%</div>
<div class="t b d" style="left:392px;top:698px;width:84px;height:19px;line-height:19px;text-align:right;padding-right:3px;width:81px;">7.06%</div>
<div class="t b d" style="left:477px;top:698px;width:104px;height:19px;line-height:19px;text-align:right;padding-right:2px;width:102px;">9.96%</div>
<div class="t b d" style="left:583px;top:698px;width:83px;height:19px;line-height:19px;text-align:right;padding-right:2px;width:81px;">$412</div>
<div class="t b d" style="left:668px;top:698px;width:83px;height:19px;line-height:19px;text-align:right;padding-right:2px;width:81px;">$612</div>
<div class="t b d" style="left:753px;top:698px;width:92px;height:19px;line-height:19px;text-align:right;padding-right:3px;width:89px;">$201</div>
<div class="t b d" style="left:846px;top:698px;width:91px;height:19px;line-height:19px;text-align:right;padding-right:3px;width:88px;">$2,407</div>
<div class="t b d" style="left:938px;top:698px;width:81px;height:19px;line-height:19px;text-align:right;padding-right:2px;width:79px;">49%</div>
<div class="t b d" style="left:249px;top:718px;width:92px;height:19px;line-height:19px;text-align:right;padding-right:4px;width:88px;">$80K</div>
<div class="t b d" style="left:342px;top:718px;width:48px;height:19px;line-height:19px;text-align:right;padding-right:2px;width:46px;">391%</div>
<div class="t b d" style="left:392px;top:718px;width:84px;height:19px;line-height:19px;text-align:right;padding-right:3px;width:81px;">8.28%</div>
<div class="t b d" style="left:477px;top:718px;width:104px;height:19px;line-height:19px;text-align:right;padding-right:2px;width:102px;">9.96%</div>
<div class="t b d" style="left:583px;top:718px;width:83px;height:19px;line-height:19px;text-align:right;padding-right:2px;width:81px;">$552</div>
<div class="t b d" style="left:668px;top:718px;width:83px;height:19px;line-height:19px;text-align:right;padding-right:2px;width:81px;">$695</div>
<div class="t b d" style="left:753px;top:718px;width:92px;height:19px;line-height:19px;text-align:right;padding-right:3px;width:89px;">$143</div>
<div class="t b d" style="left:846px;top:718px;width:91px;height:19px;line-height:19px;text-align:right;padding-right:3px;width:88px;">$1,721</div>
<div class="t b d" style="left:938px;top:718px;width:81px;height:19px;line-height:19px;text-align:right;padding-right:2px;width:79px;">26%</div>
<div class="t b d" style="left:249px;top:738px;width:92px;height:19px;line-height:19px;text-align:right;padding-right:4px;width:88px;">$90K</div>
<div class="t b d" style="left:342px;top:738px;width:48px;height:19px;line-height:19px;text-align:right;padding-right:2px;width:46px;">440%</div>
<div class="t b d" style="left:392px;top:738px;width:84px;height:19px;line-height:19px;text-align:right;padding-right:3px;width:81px;">8.50%</div>
<div class="t bi d" style="left:477px;top:738px;width:104px;height:19px;line-height:19px;text-align:center;">no cap</div>
<div class="t b d" style="left:583px;top:738px;width:83px;height:19px;line-height:19px;text-align:right;padding-right:2px;width:81px;">$638</div>
<div class="t b d" style="left:668px;top:738px;width:83px;height:19px;line-height:19px;text-align:right;padding-right:2px;width:81px;">$2,666</div>
<div class="t b d" style="left:753px;top:738px;width:92px;height:19px;line-height:19px;text-align:right;padding-right:3px;width:89px;">$2,029</div>
<div class="t b d" style="left:846px;top:738px;width:91px;height:19px;line-height:19px;text-align:right;padding-right:3px;width:88px;">$24,347</div>
<div class="t b d" style="left:938px;top:738px;width:81px;height:19px;line-height:19px;text-align:right;padding-right:2px;width:79px;">318%</div>
<div class="t b d" style="left:1px;top:154.86px;width:148px;line-height:19.139px;text-align:center;">Single<br>Adult</div>
<div class="t b d" style="left:151px;top:165.43px;width:39px;line-height:19.139px;text-align:center;">1</div>
<div class="t b d" style="left:192px;top:165.43px;width:55px;line-height:19.139px;text-align:center;">50</div>
<div class="t b d" style="left:1px;top:294.86px;width:148px;line-height:19.139px;text-align:center;">Single<br>Parent</div>
<div class="t b d" style="left:151px;top:305.43px;width:39px;line-height:19.139px;text-align:center;">2</div>
<div class="t b d" style="left:192px;top:305.43px;width:55px;line-height:19.139px;text-align:center;">30, 8</div>
<div class="t b d" style="left:1px;top:476.86px;width:148px;line-height:19.139px;text-align:center;">Nuclear<br>Family</div>
<div class="t b d" style="left:151px;top:487.43px;width:39px;line-height:19.139px;text-align:center;">4</div>
<div class="t b d" style="left:192px;top:476.86px;width:55px;line-height:19.139px;text-align:center;">40, 40,<br>15, 12</div>
<div class="t b d" style="left:1px;top:656.86px;width:148px;line-height:19.139px;text-align:center;">Pre-<br>Retirees</div>
<div class="t b d" style="left:151px;top:667.43px;width:39px;line-height:19.139px;text-align:center;">2</div>
<div class="t b d" style="left:192px;top:667.43px;width:55px;line-height:19.139px;text-align:center;">64, 64</div>
</div>
</body>
</html>
